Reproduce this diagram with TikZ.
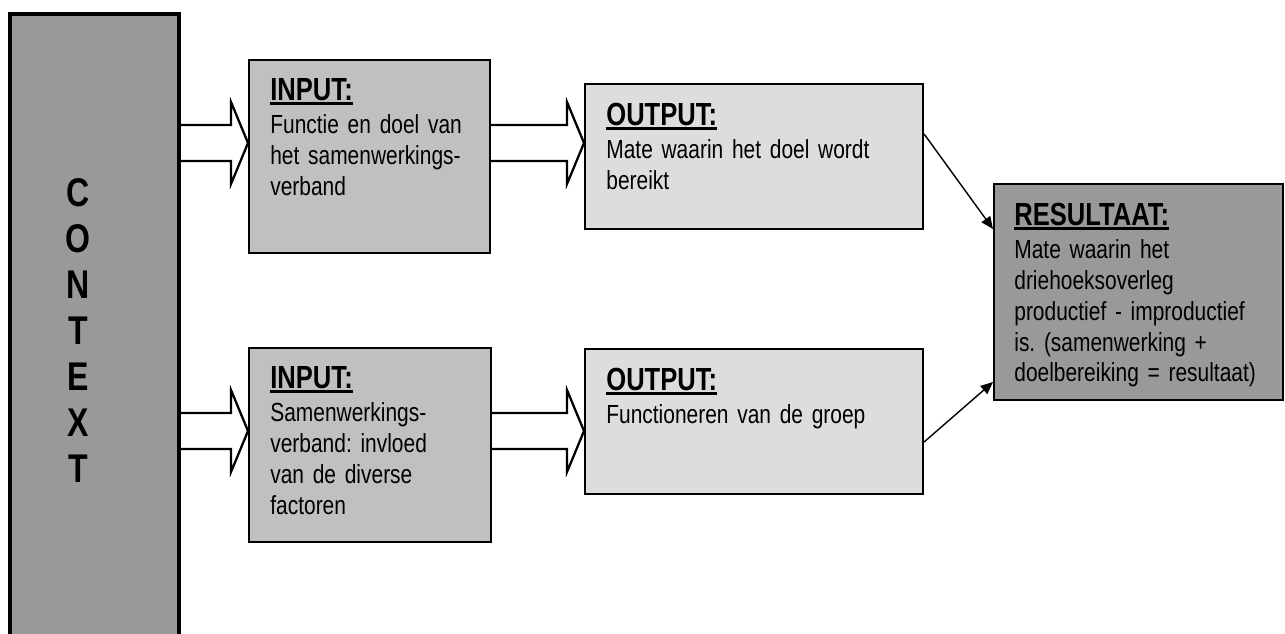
\documentclass[tikz,border=0pt]{standalone}
\usepackage{fontspec}
\setmainfont{Liberation Sans}[FakeStretch=0.8]
\usetikzlibrary{calc,arrows.meta}

\definecolor{donker}{HTML}{999999}
\definecolor{midden}{HTML}{C0C0C0}
\definecolor{licht}{HTML}{DDDDDD}

\newcommand{\px}{0.02cm}
% onderstreepte kop
\newcommand{\kop}[1]{{\fontsize{18.2pt}{20pt}\selectfont\bfseries
  \setbox0\hbox{#1}\rlap{\rule[-2.6pt]{\wd0}{1.4pt}}\box0}}
% brede pijl van vak #1 naar vak #2, punt op hoogte #3
\newcommand{\blokpijl}[3]{%
  \coordinate (h) at (0,#3);
  \draw[blokpijl] ($(#1.east |- h)+(0,-18)$) -- ($(#2.west |- h)+(-17,-18)$)
    -- ($(#2.west |- h)+(-17,-41)$) -- (#2.west |- h)
    -- ($(#2.west |- h)+(-17,41)$) -- ($(#2.west |- h)+(-17,18)$)
    -- ($(#1.east |- h)+(0,18)$);}

\tikzset{
  vak/.style={draw, line width=1.2pt, inner sep=0pt, anchor=north west},
  tekst/.style={anchor=base west, inner sep=0pt, align=left, text width=300*\px,
    font=\fontsize{14.9pt}{17.5pt}\selectfont\frenchspacing},
  letter/.style={font=\fontsize{22.8pt}{24pt}\selectfont\bfseries, inner sep=0pt},
  blokpijl/.style={draw, fill=white, line width=1.3pt, miter limit=20},
  lijn/.style={line width=0.8pt, -{Triangle[length=7pt,width=6pt]}}
}

\begin{document}
\begin{tikzpicture}[x=\px, y=-\px]
\useasboundingbox (0,0) rectangle (1285,633);
% context
\node[vak, fill=donker, line width=2.4pt, minimum width=169*\px, minimum height=650*\px] (ctx) at (8,12) {};
\foreach \teken [count=\i from 0] in {C,O,N,T,E,X,T}
  \node[letter] (c\i) at (78,193+46*\i) {\teken};
% vakken
\node[vak, fill=midden, minimum width=241*\px, minimum height=193*\px] (in1) at (248,59) {};
\node[vak, fill=licht, minimum width=338*\px, minimum height=145*\px] (out1) at (584,83) {};
\node[vak, fill=donker, minimum width=289*\px, minimum height=216*\px] (res) at (993,183) {};
\node[vak, fill=midden, minimum width=242*\px, minimum height=194*\px] (in2) at (248,347) {};
\node[vak, fill=licht, minimum width=338*\px, minimum height=145*\px] (out2) at (584,348) {};
\node[tekst] (in1t) at (270,100) {\kop{INPUT:}\\[1.8pt]Functie en doel van\\het samenwerkings-\\verband};
\node[tekst] (out1t) at (606,125) {\kop{OUTPUT:}\\[1.8pt]Mate waarin het doel wordt\\bereikt};
\node[tekst] (rest) at (1014,225) {\kop{RESULTAAT:}\\[1.8pt]Mate waarin het\\driehoeksoverleg\\productief - improductief\\is. (samenwerking +\\doelbereiking = resultaat)};
\node[tekst] (in2t) at (270,388) {\kop{INPUT:}\\[1.8pt]Samenwerkings-\\verband: invloed\\van de diverse\\factoren};
\node[tekst] (out2t) at (606,390) {\kop{OUTPUT:}\\[1.8pt]Functioneren van de groep};
% pijlen
\blokpijl{ctx}{in1}{143}
\blokpijl{in1}{out1}{143}
\blokpijl{ctx}{in2}{431}
\blokpijl{in2}{out2}{431}
\coordinate (u1) at (0,134);
\coordinate (r1) at (0,229);
\draw[lijn] (out1.east |- u1) -- (res.west |- r1);
\coordinate (u2) at (0,442);
\coordinate (r2) at (0,382);
\draw[lijn] (out2.east |- u2) -- (res.west |- r2);
\end{tikzpicture}
\end{document}
